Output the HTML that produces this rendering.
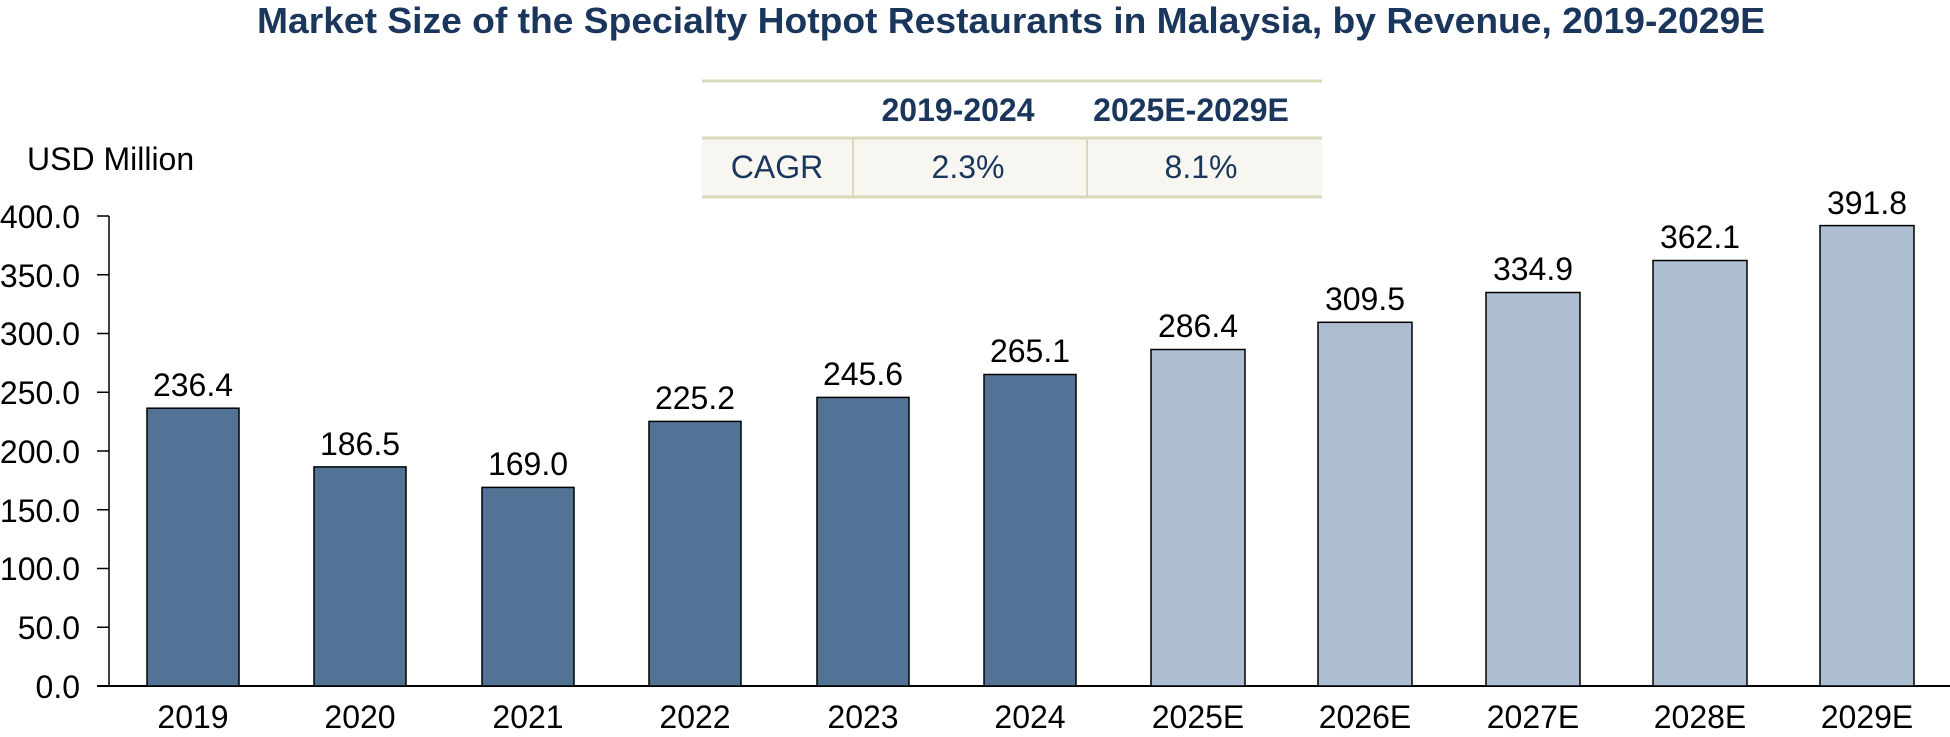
<!DOCTYPE html>
<html><head><meta charset="utf-8"><style>
html,body{margin:0;padding:0;background:#fff;}
svg{display:block;}
text{font-family:"Liberation Sans",Arial,sans-serif;}
</style></head><body>
<svg width="1950" height="737" viewBox="0 0 1950 737" xmlns="http://www.w3.org/2000/svg">
<text x="257" y="33" font-size="36" font-weight="bold" fill="#1b365d" textLength="1508" lengthAdjust="spacingAndGlyphs">Market Size of the Specialty Hotpot Restaurants in Malaysia, by Revenue, 2019-2029E</text>
<!-- table -->
<rect x="702" y="138" width="620" height="59" fill="#f7f6f0"/>
<line x1="702" y1="81" x2="1322" y2="81" stroke="#d9d8b8" stroke-width="3"/>
<line x1="702" y1="138" x2="1322" y2="138" stroke="#d9d8b8" stroke-width="3"/>
<line x1="702" y1="197" x2="1322" y2="197" stroke="#d9d8b8" stroke-width="3"/>
<line x1="853" y1="138" x2="853" y2="197" stroke="#d9d8b8" stroke-width="2"/>
<line x1="1087" y1="138" x2="1087" y2="197" stroke="#d9d8b8" stroke-width="2"/>
<text x="958" y="121" font-size="32" font-weight="bold" fill="#1b365d" text-anchor="middle">2019-2024</text>
<text x="1191" y="121" font-size="32" font-weight="bold" fill="#1b365d" text-anchor="middle">2025E-2029E</text>
<text x="777" y="178" font-size="32" fill="#1b365d" text-anchor="middle">CAGR</text>
<text x="968" y="178" font-size="32" fill="#1b365d" text-anchor="middle">2.3%</text>
<text x="1201" y="178" font-size="32" fill="#1b365d" text-anchor="middle">8.1%</text>
<text x="27" y="170" font-size="32" fill="#000">USD Million</text>
<!-- axes -->
<line x1="109" y1="216" x2="109" y2="686" stroke="#000" stroke-width="1.5"/>
<line x1="97" y1="686" x2="1950" y2="686" stroke="#000" stroke-width="2"/>
<g font-size="32" fill="#000" text-anchor="end">
<g stroke="#000" stroke-width="1.5">
<line x1="97" y1="216" x2="109" y2="216"/><line x1="97" y1="274.75" x2="109" y2="274.75"/>
<line x1="97" y1="333.5" x2="109" y2="333.5"/><line x1="97" y1="392.25" x2="109" y2="392.25"/>
<line x1="97" y1="451" x2="109" y2="451"/><line x1="97" y1="509.75" x2="109" y2="509.75"/>
<line x1="97" y1="568.5" x2="109" y2="568.5"/><line x1="97" y1="627.25" x2="109" y2="627.25"/>
</g>
<text x="80" y="228">400.0</text><text x="80" y="287">350.0</text><text x="80" y="345">300.0</text>
<text x="80" y="404">250.0</text><text x="80" y="463">200.0</text><text x="80" y="522">150.0</text>
<text x="80" y="580">100.0</text><text x="80" y="639">50.0</text><text x="80" y="698">0.0</text>
</g>
<g stroke="#000" stroke-width="1.5">
<rect x="147" y="408.2" width="92" height="277.8" fill="#527396"/>
<rect x="314" y="466.9" width="92" height="219.1" fill="#527396"/>
<rect x="482" y="487.4" width="92" height="198.6" fill="#527396"/>
<rect x="649" y="421.4" width="92" height="264.6" fill="#527396"/>
<rect x="817" y="397.4" width="92" height="288.6" fill="#527396"/>
<rect x="984" y="374.5" width="92" height="311.5" fill="#527396"/>
<rect x="1151" y="349.5" width="94" height="336.5" fill="#adbed3"/>
<rect x="1318" y="322.3" width="94" height="363.7" fill="#adbed3"/>
<rect x="1486" y="292.5" width="94" height="393.5" fill="#adbed3"/>
<rect x="1653" y="260.5" width="94" height="425.5" fill="#adbed3"/>
<rect x="1820" y="225.6" width="94" height="460.4" fill="#adbed3"/>
</g>
<g font-size="32" fill="#000" text-anchor="middle">
<text x="193" y="396">236.4</text><text x="360" y="455">186.5</text><text x="528" y="475">169.0</text>
<text x="695" y="409">225.2</text><text x="863" y="385">245.6</text><text x="1030" y="362">265.1</text>
<text x="1198" y="337">286.4</text><text x="1365" y="310">309.5</text><text x="1533" y="280">334.9</text>
<text x="1700" y="248">362.1</text><text x="1867" y="214">391.8</text>
<text x="193" y="728">2019</text><text x="360" y="728">2020</text><text x="528" y="728">2021</text>
<text x="695" y="728">2022</text><text x="863" y="728">2023</text><text x="1030" y="728">2024</text>
<text x="1198" y="728">2025E</text><text x="1365" y="728">2026E</text><text x="1533" y="728">2027E</text>
<text x="1700" y="728">2028E</text><text x="1867" y="728">2029E</text>
</g>
</svg>
</body></html>
